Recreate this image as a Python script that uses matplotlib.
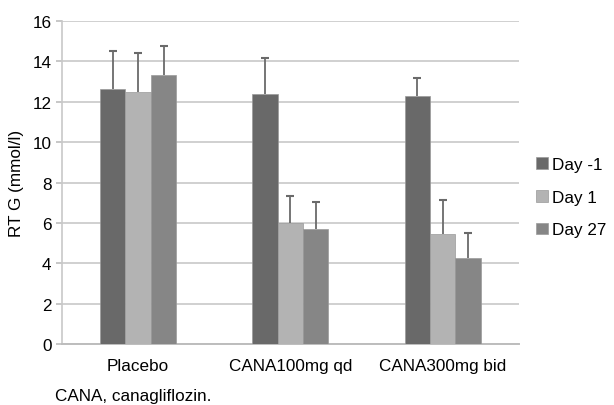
import numpy as np
import matplotlib
matplotlib.use('Agg')
from matplotlib import pyplot as plt

plt.rcParams['font.family'] = ['Liberation Sans', 'DejaVu Sans']

categories = ['Placebo', 'CANA100mg qd', 'CANA300mg bid']
series = ['Day -1', 'Day 1', 'Day 27']
day_m1 = [12.65, 12.4, 12.3]
day_1 = [12.5, 5.98, 5.45]
day_27 = [13.3, 5.7, 4.25]
err_m1 = [1.85, 1.78, 0.87]
err_1 = [1.9, 1.33, 1.7]
err_27 = [1.48, 1.32, 1.23]

colors = ['#696969', '#b3b3b3', '#868686']
values = [day_m1, day_1, day_27]
errors = [err_m1, err_1, err_27]

fs = 12.3

fig = plt.figure(figsize=(6.14, 4.06), dpi=100)
ax = fig.add_axes([0.101, 0.150, 0.744, 0.796])

x = np.arange(len(categories))
w = 0.5 / 3
for i in range(3):
    ax.bar(x + (i - 1) * w, values[i], w, color=colors[i], label=series[i],
           edgecolor='#9a9a9a', linewidth=0.5, zorder=3)
    eb = ax.errorbar(x + (i - 1) * w, values[i], yerr=[np.zeros(3), errors[i]],
                     fmt='none', ecolor='#6a6a6a', elinewidth=1.3, capsize=3,
                     capthick=1.5, zorder=4)
    # only keep the upper cap
    eb[1][0].set_visible(False)

ax.set_xlim(-0.5, 2.5)
ax.set_ylim(0, 16)
ax.set_yticks(range(0, 17, 2))
ax.set_xticks(x)
ax.set_xticklabels(categories, fontsize=fs)
ax.tick_params(axis='y', labelsize=fs, length=4, color='#bdbdbd', width=1.2)
ax.tick_params(axis='x', length=0, pad=10)
ax.grid(axis='y', color='#c8c8c8', linewidth=1.2, zorder=0)
for s in ['top', 'right']:
    ax.spines[s].set_visible(False)
ax.spines['left'].set_color('#c8c8c8')
ax.spines['left'].set_linewidth(1.2)
ax.spines['bottom'].set_color('#bdbdbd')
ax.spines['bottom'].set_linewidth(1.4)
ax.set_ylabel('RT G (mmol/l)', fontsize=fs, labelpad=6)

ax.legend(loc='center left', bbox_to_anchor=(1.005, 0.455), frameon=False,
          fontsize=fs, handlelength=0.7, handleheight=0.7, handletextpad=0.2,
          labelspacing=1.05)

fig.text(0.09, 0.012, 'CANA, canagliflozin.', fontsize=fs)

plt.savefig('out.png', dpi=100)
